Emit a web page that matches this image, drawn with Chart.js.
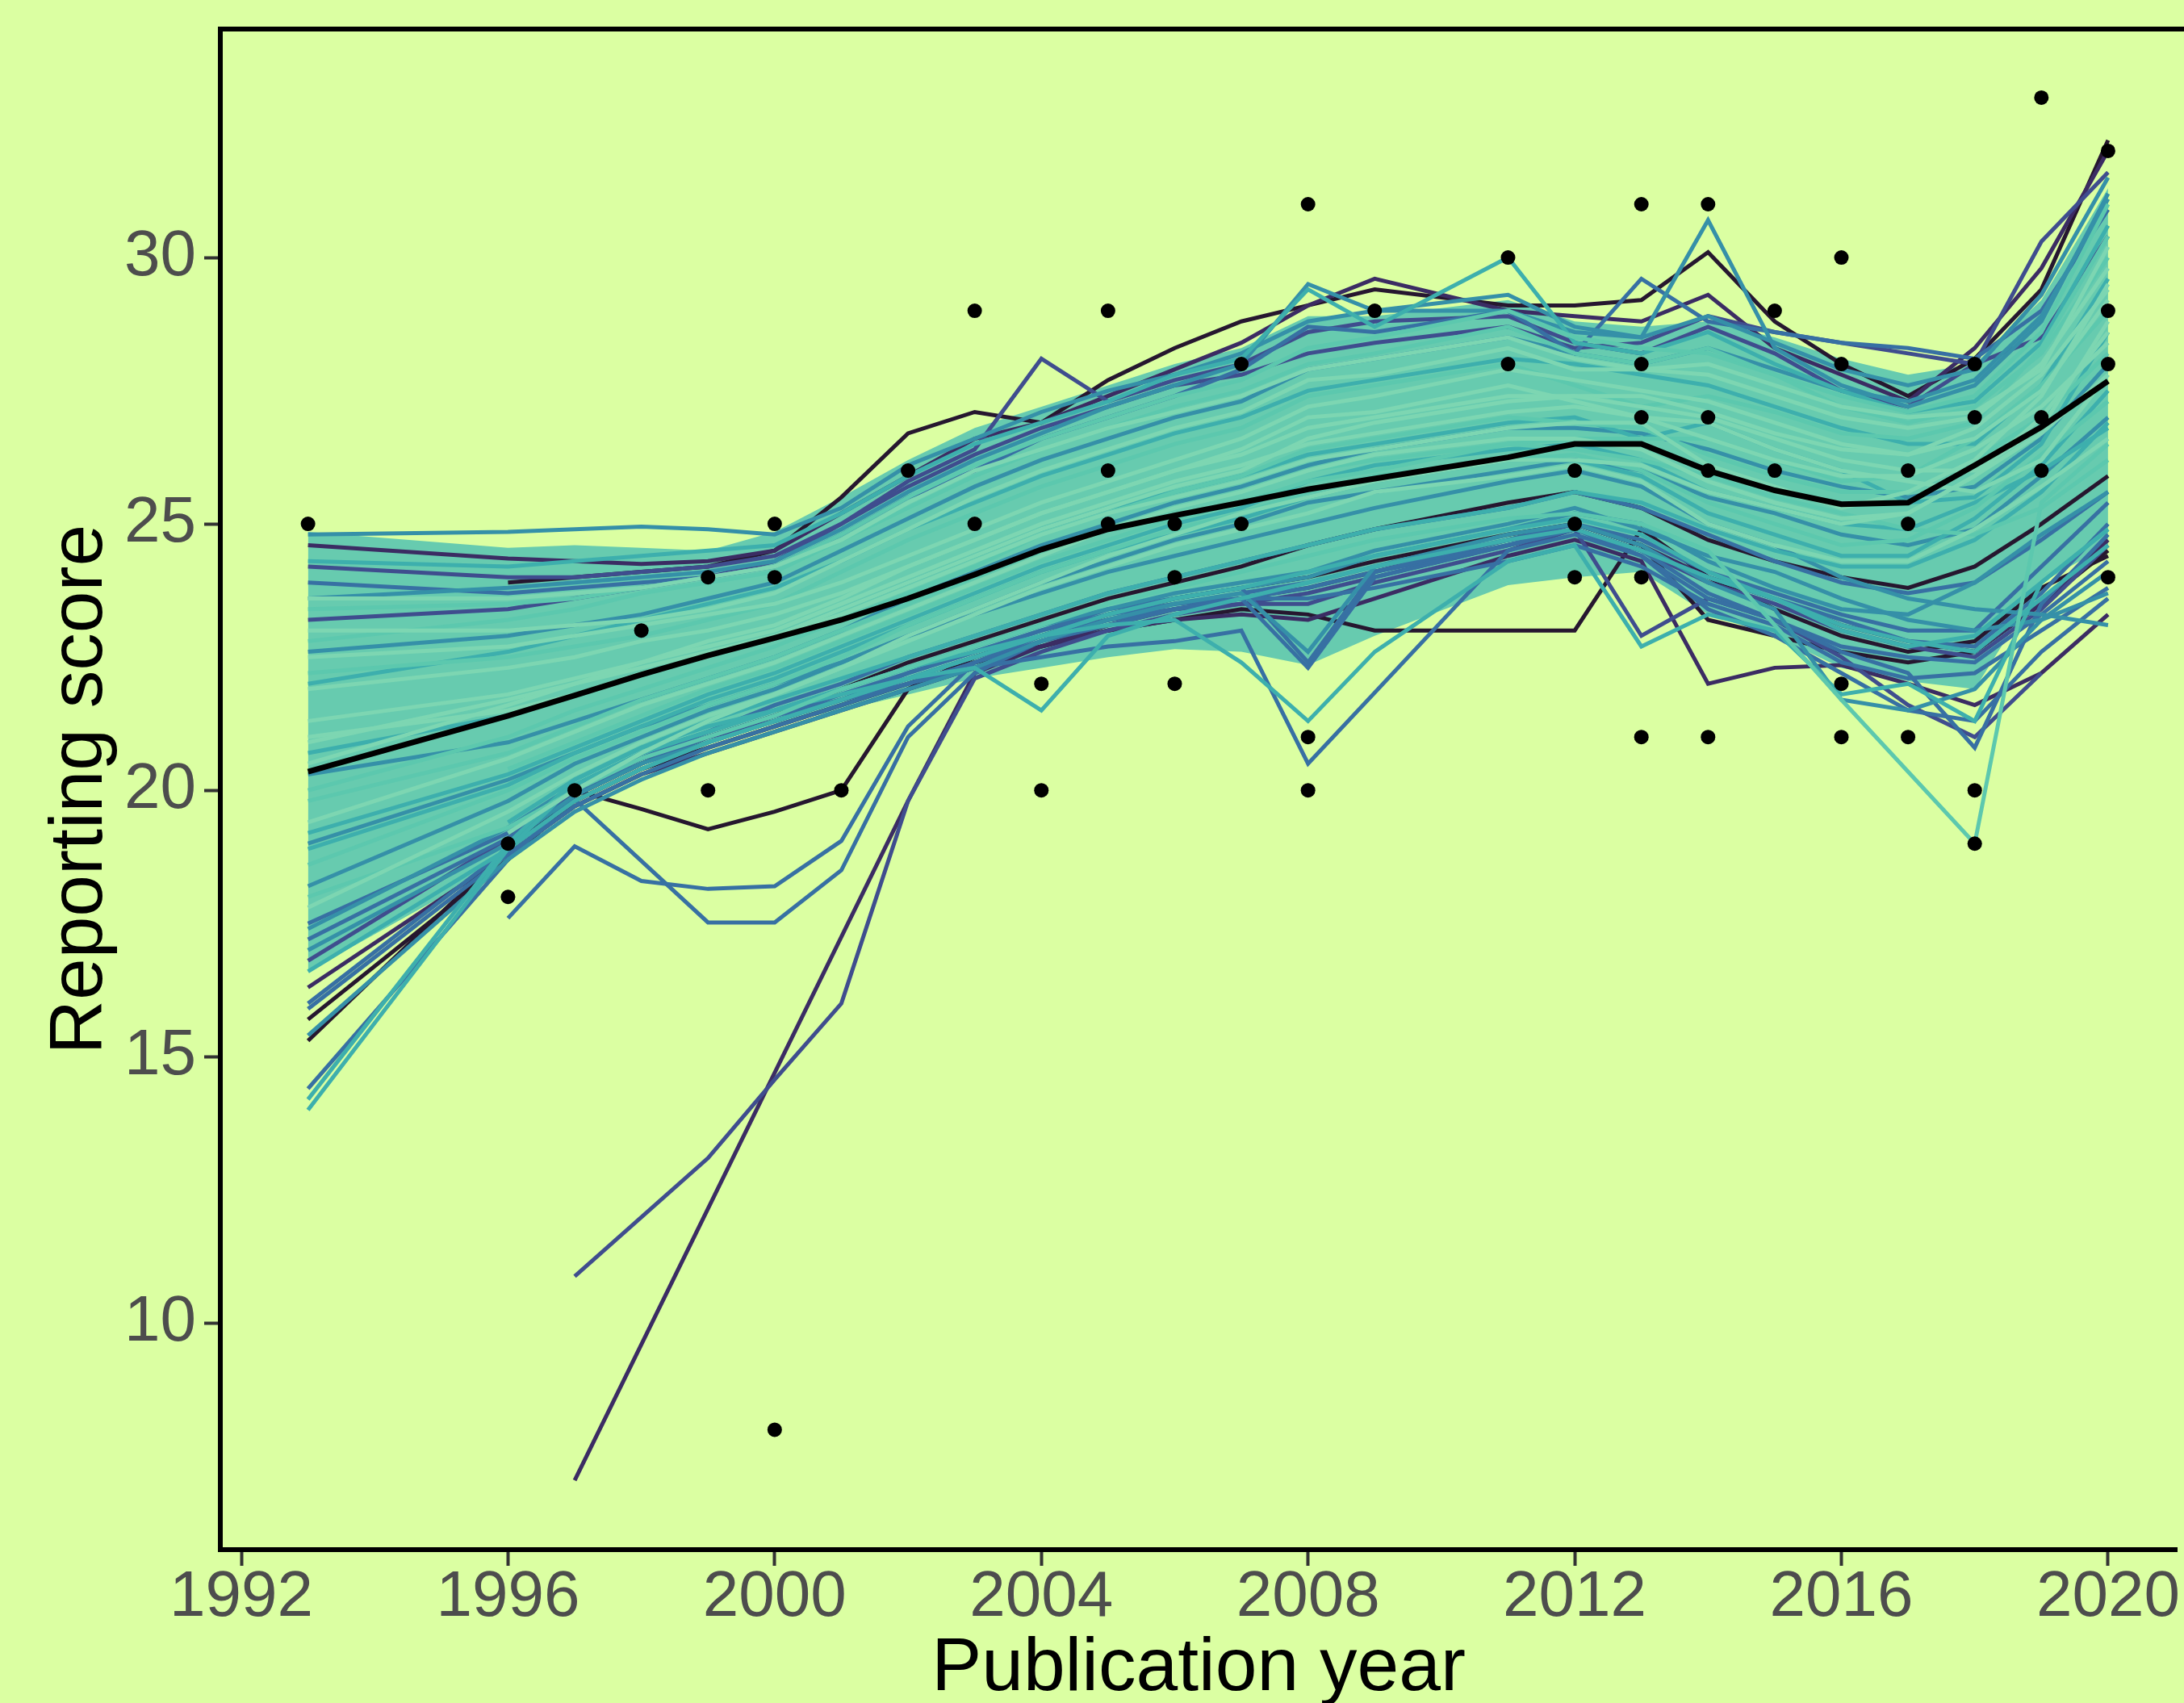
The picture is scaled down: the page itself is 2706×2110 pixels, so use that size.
<!DOCTYPE html>
<html>
<head>
<meta charset="utf-8">
<script src="https://cdn.jsdelivr.net/npm/chart.js@4.4.1/dist/chart.umd.min.js"></script>
<style>
  html, body { margin: 0; padding: 0; background: #DBFFA2; overflow: hidden; }
  canvas { display: block; }
</style>
</head>
<body>
<canvas id="myChart" width="2706" height="2110"></canvas>
<script>
// Bootstrapped smooths of reporting score by publication year

const years = [1993, 1996, 1997, 1998, 1999, 2000, 2001, 2002, 2003, 2004, 2005, 2006, 2007,
               2008, 2009, 2011, 2012, 2013, 2014, 2015, 2016, 2017, 2018, 2019, 2020];

const yearTicks = [1992, 1996, 2000, 2004, 2008, 2012, 2016, 2020];
const scoreTicks = [10, 15, 20, 25, 30];

// observed studies
const pointYears  = [1993, 1996, 1996, 1997, 1998, 1999, 1999, 2000, 2000, 2000, 2001, 2002, 2003, 2003,
                     2004, 2004, 2005, 2005, 2005, 2006, 2006, 2006, 2007, 2007, 2008, 2008, 2008, 2009,
                     2011, 2011, 2012, 2012, 2012, 2013, 2013, 2013, 2013, 2013, 2014, 2014, 2014, 2014,
                     2015, 2015, 2016, 2016, 2016, 2016, 2017, 2017, 2017, 2018, 2018, 2018, 2018,
                     2019, 2019, 2019, 2020, 2020, 2020, 2020];
const pointScores = [25, 19, 18, 20, 23, 24, 20, 25, 24, 8, 20, 26, 29, 25,
                     22, 20, 29, 26, 25, 25, 24, 22, 28, 25, 31, 21, 20, 29,
                     30, 28, 26, 25, 24, 31, 28, 27, 24, 21, 31, 27, 26, 21,
                     29, 26, 30, 28, 22, 21, 26, 25, 21, 28, 27, 20, 19,
                     33, 27, 26, 32, 29, 28, 24];

// smooth on the full sample
const meanFit = [20.35, 21.4, 21.78, 22.17, 22.53, 22.86, 23.2, 23.6, 24.05, 24.52, 24.9, 25.16, 25.4,
                 25.65, 25.85, 26.25, 26.5, 26.5, 26.0, 25.63, 25.37, 25.4, 26.1, 26.82, 27.68];

// where the bootstrap lines lie thickest
const bandUpper = [24.85, 24.55, 24.6, 24.55, 24.5, 24.85, 25.5, 26.2, 26.8, 27.2, 27.6, 28.0, 28.3,
                   28.9, 28.9, 29.2, 28.8, 28.7, 28.8, 28.5, 28.1, 27.8, 28.0, 29.2, 31.3];
const bandLower = [16.6, 18.7, 20.0, 20.5, 20.9, 21.25, 21.5, 21.8, 22.1, 22.3, 22.5, 22.65, 22.6,
                   22.35, 22.9, 23.85, 24.0, 24.1, 23.3, 22.9, 22.3, 22.05, 21.9, 23.9, 24.6];

// single bootstrap smooths (null = year not drawn in that resample)
const bootLines = [
  [24.8, 24.85, 24.9, 24.95, 24.9, 24.8, 25.3, 26.1, 26.6, 27.1, 27.5, 27.8, 28.2, 28.8, 29.0, 29.3, 28.7, 28.5, 28.9, 28.4, 27.9, 27.6, 27.9, 29.3, 31.5],
  [24.6, 24.35, 24.3, 24.25, 24.3, 24.5, 25.2, 25.9, 26.6, 26.9, 27.4, 27.9, 28.4, 29.1, 29.6, 29.0, 28.9, 28.8, 29.3, 28.3, 27.8, 27.3, 28.3, 29.8, 32.0],
  [null, 23.9, 24.0, 24.1, 24.2, 24.5, 25.5, 26.7, 27.1, 26.9, 27.7, 28.3, 28.8, 29.1, 29.4, 29.1, 29.1, 29.2, 30.1, 28.8, 28.0, 27.4, 28.1, 29.4, 32.2],
  [24.2, 24.0, 24.0, 24.1, 24.2, 24.4, 25.0, 25.8, 26.4, 28.1, 27.3, 27.7, 28.0, 28.6, 28.8, 28.9, 28.4, 28.2, 28.7, 28.2, 27.5, 27.2, 28.0, 30.3, 31.6],
  [23.6, 23.8, 23.9, 24.0, 24.1, 24.3, 24.9, 25.6, 26.2, 26.7, 27.2, 27.6, 28.0, 29.5, 29.0, 29.0, 28.6, 28.5, 30.7, 28.3, 27.6, 27.2, 27.6, 28.8, 31.2],
  [23.9, 23.7, 23.8, 23.9, 24.0, 24.2, 24.8, 25.5, 26.0, 26.6, 27.0, 27.4, 27.9, 28.7, 28.6, 29.0, 28.2, 29.6, 28.8, 28.6, 28.4, 28.3, 28.1, 29.0, 30.9],
  [23.2, 23.4, 23.6, 23.8, 24.0, 24.3, 25.0, 25.7, 26.3, 26.8, 27.2, 27.6, 27.8, 28.2, 28.4, 28.7, 28.3, 28.4, 28.9, 28.6, 28.4, 28.2, 28.0, 28.5, 30.4],
  [24.3, 24.2, 24.3, 24.4, 24.5, 24.6, 25.2, 25.9, 26.5, 26.9, 27.3, 27.8, 28.1, 29.4, 28.7, 30.0, 28.4, 28.2, 28.6, 28.0, 27.5, 27.1, 27.3, 28.4, 30.6],
  [22.8, 23.2, 23.4, 23.7, 23.9, 24.1, 24.7, 25.3, 25.9, 26.4, 26.8, 27.2, 27.5, 28.0, 28.2, 28.7, 28.2, 28.0, 28.3, 27.8, 27.2, 26.9, 27.2, 28.2, 30.0],
  [22.5, 22.7, 22.9, 23.1, 23.3, 23.5, 23.9, 24.4, 24.9, 25.4, 25.8, 26.2, 26.6, 27.2, 27.4, 27.9, 27.7, 27.5, 27.3, 26.9, 26.5, 26.3, 26.6, 27.5, 29.2],
  [21.3, 21.8, 22.1, 22.4, 22.7, 23.0, 23.5, 24.0, 24.5, 25.0, 25.4, 25.8, 26.1, 26.5, 26.7, 27.1, 27.2, 27.0, 26.6, 26.2, 25.9, 25.9, 26.4, 27.2, 28.4],
  [20.0, 21.0, 21.5, 21.9, 22.3, 22.7, 23.2, 23.7, 24.2, 24.8, 25.2, 25.6, 25.9, 26.4, 26.6, 27.0, 26.9, 26.8, 26.3, 25.9, 25.6, 25.6, 26.2, 27.0, 28.2],
  [19.4, 20.6, 21.1, 21.6, 22.0, 22.4, 22.9, 23.4, 23.9, 24.4, 24.9, 25.3, 25.6, 26.0, 26.3, 26.6, 26.6, 26.4, 25.8, 25.4, 25.1, 25.2, 25.9, 26.7, 27.8],
  [18.6, 20.0, 20.6, 21.1, 21.6, 22.0, 22.5, 23.1, 23.6, 24.1, 24.5, 24.9, 25.2, 25.6, 25.9, 26.2, 26.3, 26.0, 25.4, 25.0, 24.6, 24.7, 25.3, 26.3, 27.3],
  [23.0, 23.0, 23.1, 23.2, 23.4, 23.7, 24.3, 24.9, 25.5, 26.0, 26.4, 26.8, 27.1, 27.7, 27.8, 28.3, 27.9, 27.9, 27.8, 27.4, 27.0, 26.8, 27.0, 28.0, 29.8],
  [21.9, 22.3, 22.5, 22.8, 23.0, 23.3, 23.7, 24.2, 24.7, 25.2, 25.6, 26.0, 26.3, 26.8, 27.0, 27.4, 27.4, 27.2, 27.0, 26.6, 26.2, 26.0, 26.0, 26.8, 28.8],
  [20.7, 21.4, 21.8, 22.2, 22.5, 22.9, 23.4, 23.9, 24.4, 24.9, 25.3, 25.6, 25.9, 26.3, 26.5, 26.9, 27.0, 26.6, 26.9, 26.4, 26.0, 25.4, 25.5, 26.5, 28.6],
  [17.8, 19.6, 20.3, 20.9, 21.4, 21.8, 22.3, 22.8, 23.3, 23.8, 24.2, 24.6, 24.9, 25.2, 25.6, 25.9, 26.1, 25.8, 25.0, 24.6, 24.3, 24.3, 24.9, 25.7, 26.6],
  [null, 20.4, 20.9, 21.4, 21.9, 22.3, 22.8, 23.3, 23.8, 24.3, 24.7, 25.1, 25.4, 25.8, 26.0, 26.5, 26.4, 26.2, 25.9, 25.5, 25.2, 24.9, 24.8, 25.3, 26.2],
  [null, 19.2, 20.0, 20.7, 21.3, 21.8, 22.3, 22.9, 23.4, 23.9, 24.4, 24.8, 25.2, 25.5, 25.8, 26.2, 26.2, 26.1, 25.6, 25.3, 25.0, 25.2, 25.9, 27.0, 28.6],
  [17.0, 19.0, 19.9, 20.5, 20.9, 21.3, 21.7, 22.1, 22.5, 22.9, 23.3, 23.6, 23.8, 24.0, 24.4, 24.9, 25.2, 25.0, 24.3, 23.8, 23.4, 23.3, 23.9, 24.8, 25.6],
  [15.7, 18.7, 19.8, 20.4, 20.8, 21.2, 21.6, 22.0, 22.4, 22.7, 23.0, 23.2, 23.4, 23.3, 23.0, 23.0, 23.0, 24.9, 24.0, 23.4, 22.9, 22.6, 22.8, 23.8, 24.4],
  [16.3, 18.8, 19.7, 20.3, 20.7, 21.1, 21.5, 21.9, 22.3, 22.7, 23.0, 23.2, 23.3, 23.2, 23.6, 24.4, 24.7, 24.3, 22.0, 22.3, 22.35, 22.0, 21.6, 22.2, 23.3],
  [14.4, 18.7, 19.9, 20.6, 21.0, 21.4, 21.7, 22.0, 22.3, 22.5, 22.7, 22.8, 23.0, 20.5, null, 24.5, 24.8, 24.4, 23.6, 23.2, 22.6, 22.2, 20.8, 23.5, 24.8],
  [14.0, 18.9, 20.1, 20.7, 21.1, 21.5, 21.9, 22.3, 22.6, 22.9, 23.1, 23.2, 22.4, 21.3, 22.6, 24.3, 24.6, 22.7, 23.3, 23.0, 21.8, 22.0, 21.3, 23.9, 24.9],
  [16.8, 19.1, 20.0, 20.6, 21.0, 21.3, 21.7, 22.1, 22.5, 22.9, 23.2, 23.4, 23.5, 23.5, 23.9, 24.5, 24.9, 22.9, 23.6, 23.2, 22.5, 21.6, 21.0, 22.2, null],
  [15.4, 18.7, 19.6, 20.2, 20.7, 21.1, 21.5, 21.9, 22.3, 22.8, 23.2, 23.5, 23.7, 22.6, 24.2, 24.8, 25.0, 24.6, 23.9, 23.4, 21.7, 21.5, 21.9, 23.2, 24.1],
  [null, 19.4, 20.2, 20.8, 21.2, 21.5, 21.8, 22.1, 22.3, 21.5, 22.9, 23.3, 23.6, 23.9, 24.2, 24.7, 24.9, 24.5, 24.0, 23.6, 23.1, 22.8, 22.6, 23.6, 24.6],
  [18.0, 19.3, 20.0, 20.6, 21.0, 21.4, 21.9, 22.3, 22.7, 23.1, 23.5, 23.8, 24.1, 24.4, 24.7, 25.1, 25.2, 25.0, 24.5, null, 21.7, null, 19.0, 25.4, 26.5],
  [16.0, 18.9, 19.8, 20.4, 20.9, 21.3, 21.7, 22.2, 22.6, 23.0, 23.4, 23.6, 23.8, 22.4, 24.1, 24.7, 24.9, 24.4, 23.4, 22.9, 22.2, 21.5, 21.3, 22.6, 23.6],
  [null, 17.6, 18.95, 18.3, 18.15, 18.2, 19.05, 21.2, 22.4, 22.9, 23.2, 23.5, 23.7, 23.9, 24.2, 24.7, 25.0, 24.7, 24.1, 23.7, 23.3, 23.0, 23.0, 24.2, 25.4],
  [null, 19.2, 19.83, null, 17.52, 17.52, 18.5, 21.0, 22.2, 22.8, 23.1, 23.4, 23.6, 23.8, 24.1, 24.6, 24.9, 24.5, 24.0, 23.6, 23.2, 22.8, 22.7, 23.7, 25.0],
  [null, 19.0, 20.0, 19.65, 19.27, 19.6, 20.0, 21.9, 22.5, 22.9, 23.3, 23.6, 23.8, 24.0, 24.3, 24.8, 25.0, 24.6, 23.2, 22.9, 22.6, 22.4, 22.6, 23.5, 24.5],
  [null, null, 10.88, null, 13.1, 14.57, 16.0, 19.8, 22.1, 22.6, 23.0, 23.3, 23.5, 23.7, 24.0, 24.6, 24.9, 24.5, 23.9, 23.5, 23.0, 22.7, 22.5, 23.4, 24.6],
  [null, null, 7.05, null, null, null, null, 19.8, 22.2, 22.7, 23.1, 23.4, 23.6, 23.8, 24.1, 24.7, 25.0, 24.6, 24.0, 23.6, 23.1, 22.8, 22.6, 23.5, 24.7],
  [15.3, 18.9, 19.9, 20.5, 21.0, 21.4, 21.9, 22.4, 22.8, 23.2, 23.6, 23.9, 24.2, 24.6, 24.9, 25.4, 25.6, 25.3, 24.7, 24.3, 24.0, 23.8, 24.2, 25.0, 25.9],
  [14.2, 19.0, 20.2, 20.8, 21.3, 21.7, 22.1, 22.5, 22.9, 23.3, 23.7, 24.0, 24.3, 24.6, 24.9, 25.3, 25.6, 25.4, 24.9, 24.5, 24.2, 24.2, 24.7, 25.6, 26.9],
  [23.4, 23.5, 23.6, 23.8, 24.0, 24.2, 24.8, 25.5, 26.1, 26.6, 27.0, 27.4, 27.7, 28.3, 28.5, 29.0, 28.5, 28.3, 28.2, 27.8, 27.4, 27.1, 27.4, 28.6, 31.0],
  [20.5, 21.6, 22.0, 22.4, 22.8, 23.1, 23.6, 24.2, 24.7, 25.2, 25.6, 26.0, 26.4, 27.0, 27.1, 27.6, 27.3, 27.0, 26.9, 26.4, 26.0, 25.8, 25.6, 26.2, 27.8],
  [19.0, 20.2, 20.7, 21.2, 21.6, 22.0, 22.4, 22.9, 23.3, 23.7, 24.1, 24.4, 24.7, 25.0, 25.3, 25.8, 26.0, 25.7, 25.0, 24.6, 24.0, 23.6, 23.4, 23.3, 23.1],
  [17.4, 19.3, 20.1, 20.7, 21.1, 21.5, 21.9, 22.3, 22.7, 23.1, 23.4, 23.7, 23.9, 24.1, 24.5, 25.0, 25.3, 24.9, 24.4, 24.1, 23.6, 23.2, 23.0, 23.2, 23.7],
  [22.0, 22.6, 22.9, 23.2, 23.5, 23.8, 24.3, 24.9, 25.4, 25.9, 26.3, 26.7, 27.0, 27.5, 27.7, 28.1, 28.0, 27.8, 27.6, 27.2, 26.8, 26.5, 26.5, 27.6, 29.6],
  [21.0, 21.5, 21.8, 22.2, 22.5, 22.9, 23.4, 23.9, 24.4, 24.9, 25.3, 25.7, 26.0, 26.6, 26.9, 27.3, 27.4, 27.4, 27.1, 26.7, 26.4, 26.3, 26.8, 27.8, 29.4],
  [20.3, 20.9, 21.3, 21.7, 22.1, 22.5, 23.0, 23.6, 24.1, 24.6, 25.0, 25.4, 25.7, 26.1, 26.4, 26.8, 26.8, 26.7, 26.4, 26.0, 25.7, 25.5, 25.7, 26.6, 28.0],
  [19.8, 20.7, 21.2, 21.7, 22.1, 22.5, 23.0, 23.5, 24.0, 24.5, 24.9, 25.3, 25.6, 26.0, 26.2, 26.5, 26.6, 26.6, 26.6, 26.2, 25.8, 25.9, 26.6, 27.6, 29.0],
  [23.6, 23.6, 23.7, 23.8, 24.0, 24.2, 24.7, 25.4, 26.0, 26.4, 26.8, 27.1, 27.4, 27.9, 28.1, 28.5, 28.1, 27.9, 28.0, 27.6, 27.2, 27.0, 27.1, 27.9, 30.2],
  [18.2, 19.8, 20.5, 21.0, 21.5, 21.9, 22.4, 22.9, 23.4, 23.9, 24.3, 24.7, 25.0, 25.4, 25.6, 26.0, 26.2, 26.0, 25.5, 25.2, 24.8, 24.6, 24.9, 25.9, 27.0],
  [22.2, 22.5, 22.7, 22.9, 23.2, 23.5, 24.1, 24.7, 25.2, 25.7, 26.1, 26.5, 26.8, 27.4, 27.6, 28.0, 27.6, 27.2, 27.4, 27.1, 26.7, 26.6, 26.9, 28.3, 30.4],
  [17.5, 19.2, 20.0, 20.6, 21.1, 21.6, 22.0, 22.5, 22.9, 23.3, 23.7, 24.0, 24.3, 24.6, 24.9, 25.3, 25.6, 25.3, 24.8, 24.3, 23.9, 23.7, 23.9, 24.7, 25.6],
  [20.9, 21.7, 22.0, 22.3, 22.6, 22.9, 23.3, 23.8, 24.3, 24.8, 25.2, 25.5, 25.8, 26.2, 26.4, 26.8, 26.9, 26.9, 26.1, 25.7, 25.3, 25.6, 26.2, 27.4, 29.5],
  [19.2, 20.3, 20.8, 21.3, 21.8, 22.2, 22.7, 23.2, 23.7, 24.2, 24.6, 25.0, 25.3, 25.8, 26.1, 26.4, 26.5, 26.2, 25.6, 25.3, 25.0, 24.9, 25.4, 26.0, 26.8],
  [16.6, 18.9, 19.8, 20.4, 20.9, 21.3, 21.7, 22.1, 22.5, 22.9, 23.3, 23.6, 23.8, 24.1, 24.4, 24.9, 25.1, 24.8, 24.1, 23.6, 23.0, 22.7, 22.9, 23.9, 24.9],
  [15.9, 18.8, 19.7, 20.3, 20.8, 21.2, 21.6, 22.0, 22.4, 22.8, 23.2, 23.4, 23.6, 22.3, 24.0, 24.6, 24.9, 24.5, 23.7, 23.2, 22.7, 22.5, 22.4, 23.3, 24.3],
  [17.2, 19.1, 19.9, 20.5, 21.0, 21.4, 21.8, 22.2, 22.6, 23.0, 23.3, 23.5, 23.6, 23.6, 23.8, 24.3, 24.6, 24.2, 23.5, 23.1, 22.4, 22.1, 22.2, 23.0, 23.8],
  [22.6, 22.9, 23.1, 23.3, 23.6, 23.9, 24.5, 25.1, 25.7, 26.2, 26.6, 27.0, 27.3, 27.9, 28.1, 28.5, 28.2, 28.0, 28.3, 27.9, 27.5, 27.3, 27.7, 28.9, 31.1],
  [18.9, 20.1, 20.7, 21.2, 21.7, 22.1, 22.6, 23.1, 23.6, 24.1, 24.5, 24.8, 25.1, 25.5, 25.8, 26.2, 26.2, 25.9, 25.2, 24.8, 24.4, 24.4, 25.1, 26.1, 27.5]
];
// palette step for each line above (0 = darkest)
const bootShades = [4, 1, 0, 2, 4, 3, 2, 5, 6, 7, 7, 6, 7, 6, 7, 7, 5, 7, 6, 7,
                    4, 0, 1, 3, 5, 2, 4, 5, 6, 3, 3, 3, 0, 2, 1, 0, 5, 6, 7, 4,
                    4, 5, 7, 4, 6, 7, 4, 6, 3, 7, 5, 5, 3, 3, 4, 5];

const makoShades = ['#26172F', '#3B2C63', '#3F4D8E', '#3770A3', '#3590A8', '#3DAFAD', '#5CC8AE', '#7DD6B2'];

const toXY = vals => years.map((yr, i) => ({ x: yr, y: vals[i] }));

const datasets = [
  { data: toXY(bandLower), borderWidth: 0, pointRadius: 0, fill: false, order: 100 },
  { data: toXY(bandUpper), borderWidth: 0, pointRadius: 0, fill: '-1', backgroundColor: '#67CBAF', order: 100 }
];

bootLines.forEach((vals, i) => {
  const shade = bootShades[i];
  datasets.push({
    data: toXY(vals),
    borderColor: makoShades[shade],
    borderWidth: 5,
    pointRadius: 0,
    spanGaps: true,
    fill: false,
    order: 30 - shade
  });
});

datasets.push({
  data: toXY(meanFit),
  borderColor: '#000000',
  borderWidth: 7,
  pointRadius: 0,
  fill: false,
  order: 2
});

datasets.push({
  data: pointYears.map((yr, i) => ({ x: yr, y: pointScores[i] })),
  showLine: false,
  pointRadius: 9,
  pointBackgroundColor: '#000000',
  pointBorderWidth: 0,
  order: 1
});

const topBorder = {
  id: 'topBorder',
  afterDraw(chart) {
    const { ctx, chartArea } = chart;
    ctx.save();
    ctx.strokeStyle = '#000000';
    ctx.lineWidth = 6;
    ctx.beginPath();
    ctx.moveTo(chartArea.left - 3, chartArea.top);
    ctx.lineTo(chartArea.right + 20, chartArea.top);
    ctx.stroke();
    ctx.restore();
  }
};

const tickFont = { family: 'Liberation Sans, Arial, sans-serif', size: 80, lineHeight: 1 };
const titleFont = { family: 'Liberation Sans, Arial, sans-serif', size: 93, lineHeight: 0.9 };

const config = {
  type: 'line',
  data: { datasets: datasets },
  options: {
    responsive: false,
    animation: false,
    devicePixelRatio: 1,
    layout: { padding: { top: 36, left: 0, right: 0, bottom: 0 } },
    plugins: {
      legend: { display: false },
      tooltip: { enabled: false }
    },
    scales: {
      x: {
        type: 'linear',
        min: 1991.685,
        max: 2021.03,
        afterBuildTicks: s => { s.ticks = yearTicks.map(v => ({ value: v })); },
        afterFit: s => { s.height = 190; s.paddingLeft = 0; s.paddingRight = 0; },
        border: { display: true, color: '#000000', width: 6 },
        grid: { display: true, drawOnChartArea: false, drawTicks: true, tickLength: 20, tickWidth: 4, tickColor: '#333333' },
        ticks: { color: '#4D4D4D', font: tickFont, padding: 0, maxRotation: 0, callback: v => String(v) },
        title: { display: true, text: 'Publication year', color: '#000000', font: titleFont, padding: { top: 0, bottom: 0 } }
      },
      y: {
        type: 'linear',
        min: 5.75,
        max: 34.287,
        afterBuildTicks: s => { s.ticks = scoreTicks.map(v => ({ value: v })); },
        afterFit: s => { s.width = 273; s.paddingTop = 0; s.paddingBottom = 0; },
        border: { display: true, color: '#000000', width: 6 },
        grid: { display: true, drawOnChartArea: false, drawTicks: true, tickLength: 20, tickWidth: 4, tickColor: '#333333' },
        ticks: { color: '#4D4D4D', font: tickFont, padding: 10, callback: v => String(v) },
        title: { display: true, text: 'Reporting score', color: '#000000', font: titleFont, padding: { top: 59, bottom: 0 } }
      }
    }
  },
  plugins: [topBorder]
};

var myChart = new Chart(
  document.getElementById('myChart'),
  config
);
</script>
</body>
</html>
